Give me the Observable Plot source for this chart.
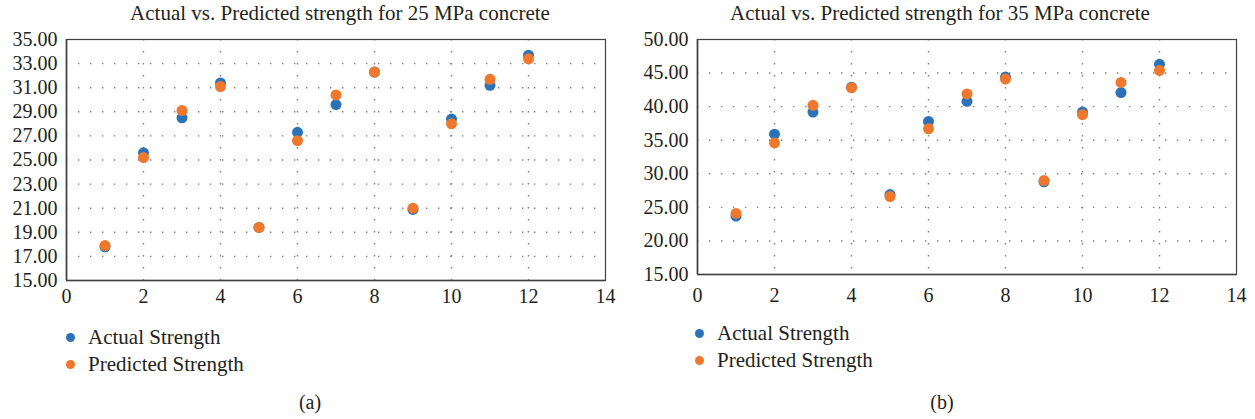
<!DOCTYPE html>
<html>
<head>
<meta charset="utf-8">
<script src="https://cdn.jsdelivr.net/npm/d3@7"></script>
<script src="https://cdn.jsdelivr.net/npm/@observablehq/plot@0.6"></script>
<style>
  html, body { margin: 0; padding: 0; background: #fff; }
  body { width: 1255px; height: 419px; position: relative; overflow: hidden;
         font-family: "Liberation Serif", "DejaVu Serif", serif; color: #231f20; }
  .abs { position: absolute; }
  .title { font-size: 21px; white-space: nowrap; transform: translateX(-50%); }
  .caption { font-size: 20px; transform: translateX(-50%); }
  .leg { font-size: 21px; white-space: nowrap; display: flex; align-items: center; }
  .leg .dot { width: 9px; height: 9px; border-radius: 50%; display: inline-block; margin-right: 13px; }
</style>
</head>
<body>
<script>
// ---- data ----
const specimen = [1, 2, 3, 4, 5, 6, 7, 8, 9, 10, 11, 12];
const actual25 = [17.8, 25.6, 28.5, 31.4, 19.4, 27.3, 29.6, 32.3, 20.9, 28.4, 31.2, 33.7];
const predicted25 = [17.9, 25.2, 29.1, 31.1, 19.4, 26.6, 30.4, 32.3, 21.0, 28.0, 31.7, 33.4];
const actual35 = [23.7, 35.9, 39.2, 42.9, 26.9, 37.8, 40.8, 44.4, 28.8, 39.2, 42.1, 46.3];
const predicted35 = [24.1, 34.6, 40.2, 42.8, 26.6, 36.7, 41.9, 44.1, 29.0, 38.8, 43.6, 45.4];
const xTicks = [0, 2, 4, 6, 8, 10, 12, 14];
const yTicks25 = [15, 17, 19, 21, 23, 25, 27, 29, 31, 33, 35];
const yTicks35 = [15, 20, 25, 30, 35, 40, 45, 50];
const seriesNames = ["Actual Strength", "Predicted Strength"];
const seriesColors = ["#2b73b9", "#f0782c"];
const titles = ["Actual vs. Predicted strength for 25 MPa concrete", "Actual vs. Predicted strength for 35 MPa concrete"];
const captions = ["(a)", "(b)"];

function makeRows(actual, predicted) {
  const rows = [];
  specimen.forEach((s, i) => rows.push({x: s, y: actual[i], series: seriesNames[0]}));
  specimen.forEach((s, i) => rows.push({x: s, y: predicted[i], series: seriesNames[1]}));
  return rows;
}

function makeChart(rows, yTicks, dims) {
  const yMin = yTicks[0], yMax = yTicks[yTicks.length - 1];
  return Plot.plot({
    width: dims.width, height: dims.height,
    marginLeft: dims.ml, marginRight: dims.mr, marginTop: dims.mt, marginBottom: dims.mb,
    style: {fontFamily: '"Liberation Serif", serif', fontSize: "20px", color: "#231f20", background: "transparent"},
    x: {domain: [0, 14], ticks: xTicks, label: null},
    y: {domain: [yMin, yMax], ticks: yTicks, label: null, tickFormat: d3.format(".2f")},
    color: {domain: seriesNames, range: seriesColors},
    marks: [
      Plot.gridY(yTicks.slice(1, -1), {stroke: "#7f7f7f", strokeOpacity: 1, strokeWidth: 1.4, strokeDasharray: "1.4,10.6"}),
      Plot.gridX(xTicks.slice(1, -1), {stroke: "#7f7f7f", strokeOpacity: 1, strokeWidth: 1.4, strokeDasharray: "1.4,10.6"}),
      Plot.axisX({ticks: xTicks, tickSize: 0, tickPadding: dims.xpad, fontSize: 20}),
      Plot.axisY({ticks: yTicks, tickSize: 0, tickPadding: 9, tickFormat: d3.format(".2f"), fontSize: 20}),
      Plot.dot(rows, {x: "x", y: "y", fill: "series", r: 5.5, stroke: "none"}),
      Plot.ruleY([yMin], {stroke: "#404040", strokeWidth: 1.6}),
      Plot.ruleX([0], {stroke: "#404040", strokeWidth: 1.6}),
      Plot.frame({stroke: "#404040", strokeWidth: 1.2})
    ]
  });
}

const panels = [
  {rows: makeRows(actual25, predicted25), yTicks: yTicks25, left: 0, top: 20,
   dims: {width: 620, height: 290, ml: 66, mr: 15, mt: 19, mb: 30, xpad: 8},
   titleX: 340, capX: 310, legX: 66, legY: 325},
  {rows: makeRows(actual35, predicted35), yTicks: yTicks35, left: 620, top: 20,
   dims: {width: 635, height: 300, ml: 77, mr: 19, mt: 19, mb: 46, xpad: 13},
   titleX: 940, capX: 942, legX: 695, legY: 321}
];

panels.forEach((p, i) => {
  const t = document.createElement("div");
  t.className = "abs title"; t.style.left = p.titleX + "px"; t.style.top = "1px";
  t.textContent = titles[i];
  document.body.appendChild(t);

  const holder = document.createElement("div");
  holder.className = "abs"; holder.style.left = p.left + "px"; holder.style.top = p.top + "px";
  holder.appendChild(makeChart(p.rows, p.yTicks, p.dims));
  document.body.appendChild(holder);

  seriesNames.forEach((name, k) => {
    const l = document.createElement("div");
    l.className = "abs leg"; l.style.left = p.legX + "px"; l.style.top = (p.legY + k * 27) + "px";
    const d = document.createElement("span"); d.className = "dot"; d.style.background = seriesColors[k];
    const s = document.createElement("span"); s.textContent = name;
    l.appendChild(d); l.appendChild(s);
    document.body.appendChild(l);
  });

  const c = document.createElement("div");
  c.className = "abs caption"; c.style.left = p.capX + "px"; c.style.top = "391px";
  c.textContent = captions[i];
  document.body.appendChild(c);
});
</script>
</body>
</html>
